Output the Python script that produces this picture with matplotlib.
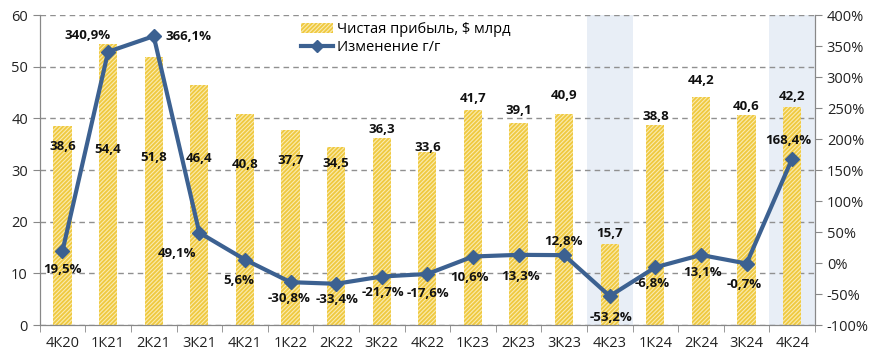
import matplotlib.pyplot as plt
import matplotlib.patches as mpatches
from matplotlib.lines import Line2D
import numpy as np

plt.rcParams['font.family'] = ['Open Sans', 'DejaVu Sans']
plt.rcParams['hatch.linewidth'] = 0.8

quarters = ['4К20', '1К21', '2К21', '3К21', '4К21', '1К22', '2К22', '3К22', '4К22',
            '1К23', '2К23', '3К23', '4К23', '1К24', '2К24', '3К24', '4К24']
profit = [38.6, 54.4, 51.8, 46.4, 40.8, 37.7, 34.5, 36.3, 33.6,
          41.7, 39.1, 40.9, 15.7, 38.8, 44.2, 40.6, 42.2]
yoy = [19.5, 340.9, 366.1, 49.1, 5.6, -30.8, -33.4, -21.7, -17.6,
       10.6, 13.3, 12.8, -53.2, -6.8, 13.1, -0.7, 168.4]
shaded = ['4К23', '4К24']

# label placement (data units for bars, pixels for line)
bar_lab_dy = [-4.0, -20.5, -19.3, -14.1, -9.8, -5.8, -3.3, 1.6, 0.8,
              2.2, 2.5, 3.6, 2.1, 1.5, 3.2, 1.8, 2.1]
line_lab_off = [(0, -19), (-21, 16), (35, 0), (-22, -21), (-6, -21), (-1, -16),
                (1, -16), (1, -16), (1, -20), (-3, -21), (2, -22), (-1, 14),
                (1, -21), (-3, -16), (2, -18), (-2, -21), (-4, 18)]

bar_color = '#EFC940'
line_color = '#3C6191'
hatch = '////////'
hatch_color = '#FAEBB0'

fig = plt.figure(figsize=(8.82, 3.6), dpi=100)
ax = fig.add_axes([0.045, 0.097, 0.879, 0.861])
x = np.arange(len(quarters))

for q in shaded:
    i = quarters.index(q)
    ax.axvspan(i - 0.5, i + 0.5, color='#E8EEF6', zorder=0, lw=0)

ax.bar(x, profit, width=0.4, color=bar_color, edgecolor=hatch_color, lw=0,
       hatch=hatch, zorder=2)
ax.set_ylim(0, 60)
ax.set_xlim(-0.5, len(quarters) - 0.5)
ax.set_yticks(range(0, 61, 10))
ax.yaxis.grid(True, ls=(0, (4, 3)), color='#909090', lw=1)
ax.set_axisbelow(True)
ax.set_xticks(x)
ax.set_xticklabels(quarters)
ax.set_xticks(np.arange(-0.5, len(quarters), 1), minor=True)
ax.tick_params(axis='x', which='major', length=0, pad=8, labelsize=10.5, colors='#222222')
ax.tick_params(axis='x', which='minor', length=5, color='#888888')
ax.tick_params(axis='y', length=5, color='#888888', labelsize=10.5, labelcolor='#222222')

for i, v in enumerate(profit):
    ax.text(i, v + bar_lab_dy[i], f'{v:.1f}'.replace('.', ','), ha='center', va='center',
            fontsize=9.5, fontweight='bold', color='#111111', zorder=5)

ax2 = ax.twinx()
ax2.plot(x, yoy, color=line_color, lw=3, marker='D', ms=7, zorder=4)
ax2.set_ylim(-100, 400)
ax2.set_yticks(range(-100, 401, 50))
ax2.set_yticklabels([f'{t}%' for t in range(-100, 401, 50)])
ax2.tick_params(axis='y', length=5, color='#888888', labelsize=10.5, labelcolor='#222222')

for i, v in enumerate(yoy):
    ax2.annotate(f'{v:.1f}%'.replace('.', ','), (i, v), xytext=line_lab_off[i],
                 textcoords='offset pixels', ha='center', va='center',
                 fontsize=9.5, fontweight='bold', color='#111111', zorder=6)

for a in (ax, ax2):
    a.spines['top'].set_visible(False)
    for s in ('left', 'right', 'bottom'):
        a.spines[s].set_color('#888888')

handles = [mpatches.Patch(facecolor=bar_color, edgecolor=hatch_color, hatch=hatch, lw=0),
           Line2D([], [], color=line_color, lw=3, marker='D', ms=6)]
ax2.legend(handles, ['Чистая прибыль, $ млрд', 'Изменение г/г'], loc='upper left',
           bbox_to_anchor=(0.32, 1.02), frameon=False, fontsize=10.5,
           handlelength=2.2, handletextpad=0.3, labelspacing=0.2)

fig.savefig('out.png', dpi=100)
